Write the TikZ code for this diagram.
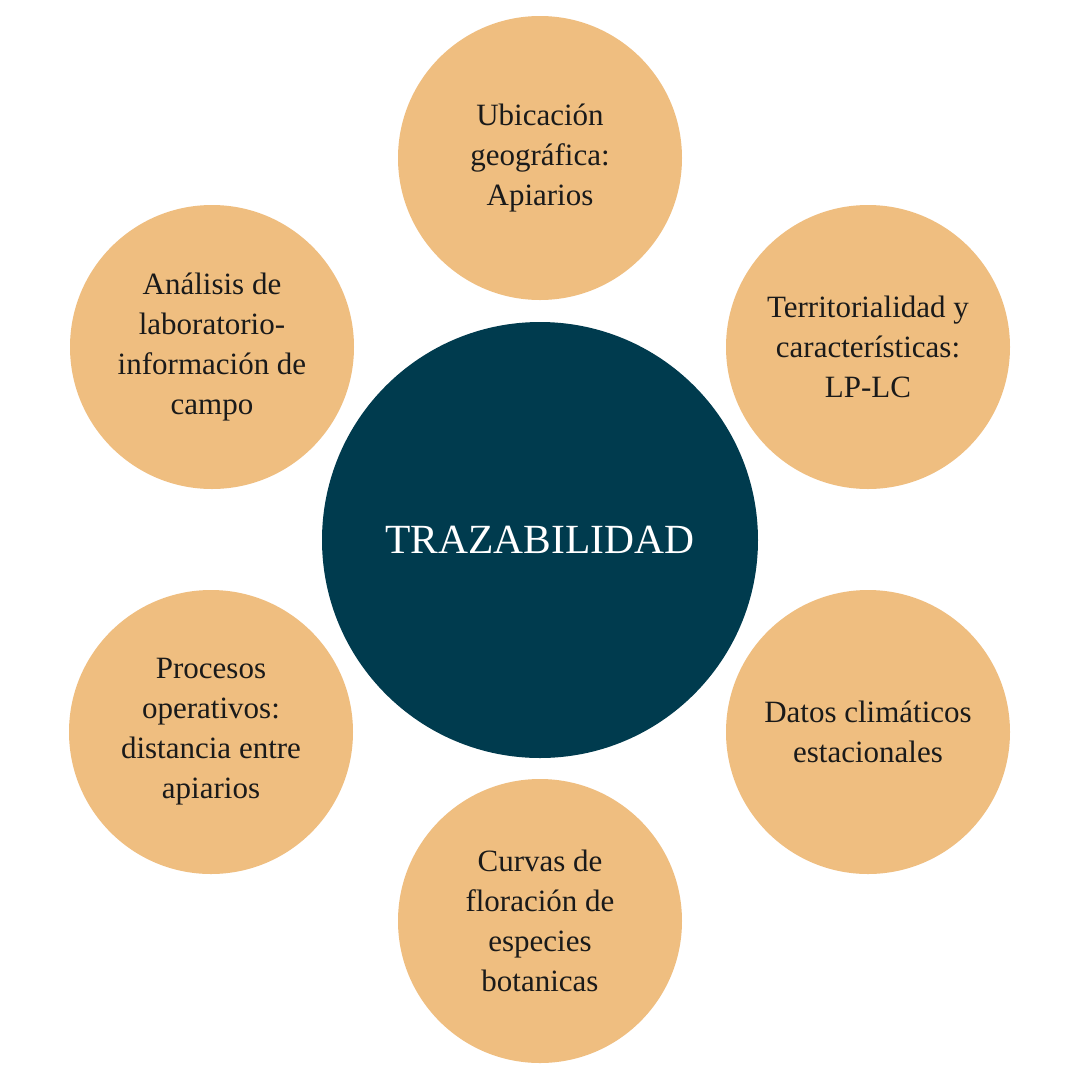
\documentclass[tikz,border=0pt]{standalone}
\usepackage{fontspec}
\setmainfont{Liberation Serif}
\definecolor{teal}{HTML}{003B4E}
\definecolor{sand}{HTML}{EFBE80}
\definecolor{ink}{HTML}{1A1A1A}
\begin{document}
\begin{tikzpicture}[x=1pt,y=-1pt,
  outer/.style={circle,fill=sand,minimum size=284pt,inner sep=0pt,text=ink,
    align=center,font=\fontsize{31}{40}\selectfont},
  center/.style={circle,fill=teal,minimum size=436pt,inner sep=0pt,text=white,
    font=\fontsize{41.5}{50}\selectfont}]
\useasboundingbox[fill=white] (0,0) rectangle (1080,1080);
\node[center] (c) at (540,540) {TRAZABILIDAD};
\node[outer] (n1) at (540,158) {Ubicación\\geográfica:\\Apiarios};
\node[outer] (n2) at (868,347) {Territorialidad y\\características:\\LP-LC};
\node[outer] (n3) at (868,732) {Datos climáticos\\estacionales};
\node[outer] (n4) at (540,921) {Curvas de\\floración de\\especies\\botanicas};
\node[outer] (n5) at (211,732) {Procesos\\operativos:\\distancia entre\\apiarios};
\node[outer] (n6) at (212,347) {Análisis de\\laboratorio-\\información de\\campo};
\end{tikzpicture}
\end{document}
